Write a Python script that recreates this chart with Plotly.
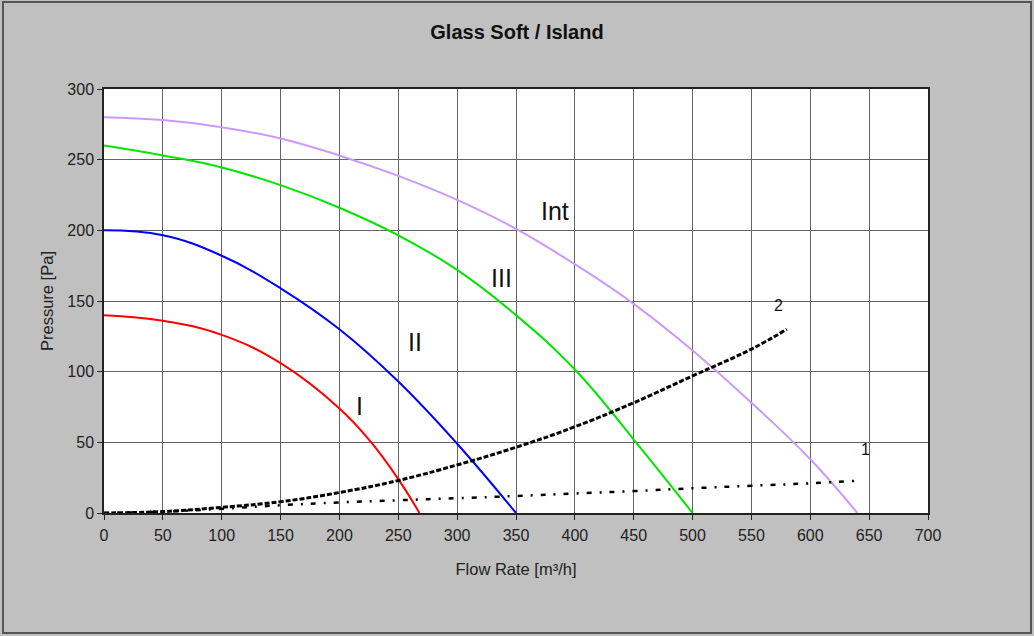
import plotly.graph_objects as go

# Fan curves (flow m3/h, pressure Pa)
int_q = [0, 50, 100, 150, 200, 250, 300, 350, 400, 450, 500, 550, 600, 640]
int_p = [280, 278, 273, 265, 253, 238.5, 221.5, 201, 176, 148, 115, 78, 38, 0]

iii_q = [0, 50, 100, 150, 200, 250, 300, 350, 400, 450, 500]
iii_p = [260, 253, 244.5, 232, 216, 196.5, 172, 140, 101.5, 52, 0]

ii_q = [0, 50, 100, 150, 200, 250, 300, 350]
ii_p = [200, 196.5, 182, 159, 130, 93, 49, 0]

i_q = [0, 50, 100, 150, 200, 226, 250, 268]
i_p = [140, 136, 126, 106, 74, 51, 24, 0]

# System curves
s2_q = [0, 50, 100, 150, 200, 250, 300, 350, 400, 450, 500, 550, 580]
s2_p = [0, 1, 4, 8, 14.5, 23, 34, 46.5, 61, 78, 97, 116, 130]

s1_q = [0, 50, 100, 150, 200, 250, 300, 350, 400, 450, 500, 550, 600, 640]
s1_p = [0, 1, 3, 5.5, 7.5, 9, 10.5, 12, 13.8, 15.5, 17.5, 19.3, 21, 22.8]

x_ticks = list(range(0, 701, 50))
y_ticks = list(range(0, 301, 50))

labels_text = ["Int", "III", "II", "I", "2", "1"]
labels_x = [383, 338, 264, 217, 573, 647]
labels_y = [214, 166, 121, 76, 147, 45]
labels_size = [25, 25, 25, 25, 16, 16]

FONT = "Liberation Sans, Arial, sans-serif"
SM = 1.2

fig = go.Figure()
fig.add_trace(go.Scatter(x=int_q, y=int_p, mode="lines", line=dict(color="#cc99ff", width=2, shape="spline", smoothing=SM)))
fig.add_trace(go.Scatter(x=iii_q, y=iii_p, mode="lines", line=dict(color="#00e600", width=2, shape="spline", smoothing=SM)))
fig.add_trace(go.Scatter(x=ii_q, y=ii_p, mode="lines", line=dict(color="#0000ff", width=2, shape="spline", smoothing=SM)))
fig.add_trace(go.Scatter(x=i_q, y=i_p, mode="lines", line=dict(color="#ff0000", width=2, shape="spline", smoothing=SM)))
fig.add_trace(go.Scatter(x=s2_q, y=s2_p, mode="lines", line=dict(color="#000000", width=3, dash="5px,2px", shape="spline", smoothing=SM)))
fig.add_trace(go.Scatter(x=s1_q, y=s1_p, mode="lines", line=dict(color="#000000", width=2.5, dash="5px,8px,2px,8px", shape="spline", smoothing=SM)))

for t, x, y, s in zip(labels_text, labels_x, labels_y, labels_size):
    fig.add_annotation(x=x, y=y, text=t, showarrow=False, font=dict(family=FONT, size=s, color="#111111"))

W, H = 1034, 636
ml, mr, mt, mb = 104, 106, 89, 123
pw, ph = W - ml - mr, H - mt - mb
fig.add_shape(type="rect", xref="paper", yref="paper",
              x0=-(ml - 3) / pw, x1=1 + (mr - 3) / pw, y0=-(mb - 3) / ph, y1=1 + (mt - 2) / ph,
              line=dict(color="#555555", width=2), layer="below")

fig.update_layout(
    width=W, height=H,
    margin=dict(l=ml, r=mr, t=mt, b=mb),
    paper_bgcolor="#c0c0c0", plot_bgcolor="#ffffff",
    showlegend=False,
    font=dict(family=FONT, size=16, color="#222222"),
    title=dict(text="<b>Glass Soft / Island</b>", x=0.5, xanchor="center", y=1 - 32 / H, yanchor="middle",
               font=dict(family=FONT, size=20, color="#111111")),
)
fig.update_xaxes(range=[0, 700], tickvals=x_ticks, showgrid=True, gridcolor="#646464", gridwidth=1,
                 showline=True, linecolor="#222222", linewidth=1.5, mirror=True,
                 ticks="outside", ticklen=5, tickcolor="#222222", zeroline=False, ticklabelstandoff=2,
                 tickfont=dict(size=16),
                 title=dict(text="Flow Rate [m³/h]", font=dict(size=16.5), standoff=20))
fig.update_yaxes(range=[0, 300], tickvals=y_ticks, showgrid=True, gridcolor="#646464", gridwidth=1,
                 showline=True, linecolor="#222222", linewidth=1.5, mirror=True,
                 ticks="outside", ticklen=5, tickcolor="#222222", zeroline=False,
                 tickfont=dict(size=16),
                 title=dict(text="Pressure [Pa]", font=dict(size=16.5), standoff=10))

fig.write_html("out.html", config={"displayModeBar": False},
               post_script="document.body.style.margin='0';document.body.style.overflow='hidden';")
